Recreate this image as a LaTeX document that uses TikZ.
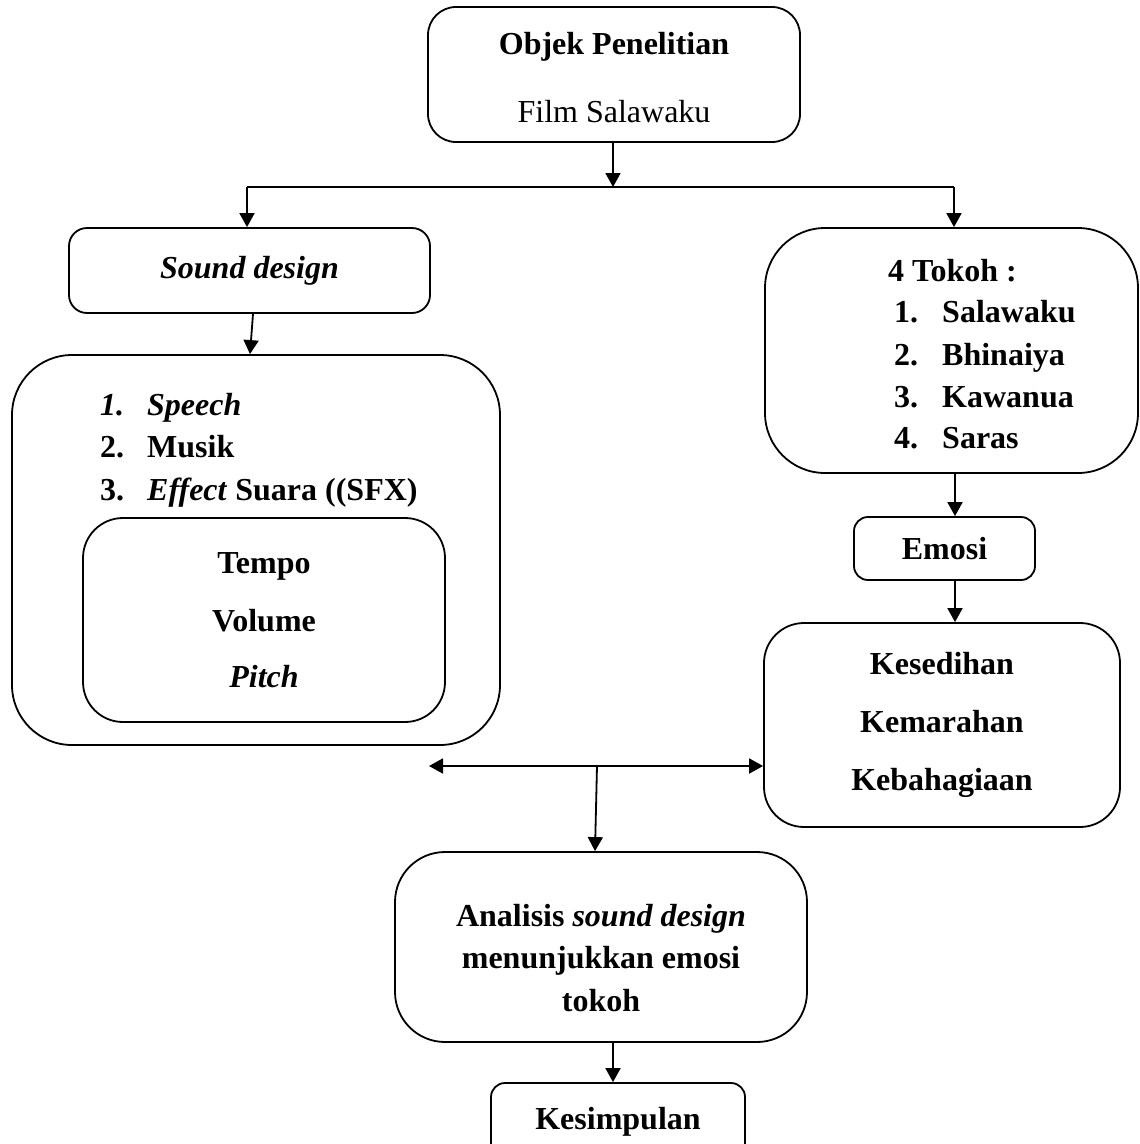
\documentclass[tikz,border=0pt]{standalone}
\usepackage{fontspec}
\setmainfont{Liberation Serif}
\usetikzlibrary{positioning,calc,arrows.meta}

\tikzset{%
  rbox/.style={draw, line width=1.8pt, align=center, inner sep=0pt},%
  conn/.style={line width=1.8pt, -{Triangle[length=14pt,width=15pt]}},%
  item/.style={anchor=base west, inner sep=0pt, font=\fontsize{32}{38}\selectfont\bfseries}%
}

\begin{document}
\begin{tikzpicture}[x=1pt, y=-1pt, font=\fontsize{32}{38}\selectfont]
          \useasboundingbox (0, 0) rectangle (1140, 1144);%
          \node [rbox, minimum width=372pt, minimum height=135pt, rounded corners=28pt] (objek) at (614, 74.5) {};%
          \node [align=center] (objekTeks) at (614, 78) {%
            \textbf{Objek Penelitian}%
            \\[30pt]Film Salawaku};%
          \node [rbox, minimum width=361pt, minimum height=85pt, rounded corners=18pt] (sound) at (249.5, 270.5) {%
            \textbf{\textit{Sound design}}};%
          \node [rbox, minimum width=488pt, minimum height=390pt, rounded corners=60pt] (elemen) at (256, 550) {};%
          \node [item] (no1) at (100, 415) {\textit{1.}};%
          \node [item] (sp) at (147, 415) {\textit{Speech}};%
          \node [item] (no2) at (100, 457) {2.};%
          \node [item] (mu) at (147, 457) {Musik};%
          \node [item] (no3) at (100, 500) {3.};%
          \node [item] (sfx) at (147, 500) {\textit{Effect} Suara ((SFX)};%
          \node [rbox, minimum width=362pt, minimum height=204pt, rounded corners=40pt, font=\fontsize{32}{38}\selectfont\bfseries] (aspek) at (264, 620) {%
            Tempo\\[20pt]Volume\\[18pt]\textit{Pitch}};%
          \node [rbox, minimum width=373pt, minimum height=245pt, rounded corners=60pt] (tokoh) at (951.5, 350.5) {};%
          \node [item] (judul) at (888, 281) {4 Tokoh :};%
          \node [item] (t1) at (894, 322) {1.};%
          \node [item] (n1) at (942, 322) {Salawaku};%
          \node [item] (t2) at (894, 365) {2.};%
          \node [item] (n2) at (942, 365) {Bhinaiya};%
          \node [item] (t3) at (894, 407) {3.};%
          \node [item] (n3) at (942, 407) {Kawanua};%
          \node [item] (t4) at (894, 448) {4.};%
          \node [item] (n4) at (942, 448) {Saras};%
          \node [rbox, minimum width=181pt, minimum height=63pt, rounded corners=14pt] (emosi) at (944.5, 548.5) {%
            \textbf{Emosi}};%
          \node [rbox, minimum width=356pt, minimum height=204pt, rounded corners=40pt, font=\fontsize{32}{38}\selectfont\bfseries] (jenis) at (942, 725) {%
            Kesedihan\\[20pt]Kemarahan\\[20pt]Kebahagiaan};%
          \node [rbox, minimum width=412pt, minimum height=190pt, rounded corners=50pt] (analisis) at (601, 947) {};%
          \node [align=center, font=\fontsize{32}{38}\selectfont\bfseries] (simpulan) at (601, 958) {%
            Analisis \textit{sound design}\\[4.5pt]menunjukkan emosi\\[4.5pt]tokoh};%
          \node [rbox, minimum width=254pt, minimum height=77pt, rounded corners=14pt] (akhir) at (618, 1121.5) {%
            \textbf{Kesimpulan}};%
          \coordinate (pusat) at (613, 187);%
          \coordinate (kiri) at (247, 187);%
          \coordinate (kanan) at (954, 187);%
          \coordinate (ujung) at (429, 766);%
          \coordinate (temu) at (597, 766);%
          \draw [conn] (objek.south -| pusat) -- (pusat);%
          \draw [line width=1.8pt] (kiri) -- (kanan);%
          \draw [conn] (kiri) -- (kiri |- sound.north);%
          \draw [conn] (kanan) -- (kanan |- tokoh.north);%
          \draw [conn] ($(sound.south)+(3.5, 0)$) -- ($(elemen.north)+(-6, 0)$);%
          \draw [conn] ($(tokoh.south)+(3.5, 0)$) -- ($(emosi.north)+(10.5, 0)$);%
          \draw [conn] ($(emosi.south)+(10.5, 0)$) -- ($(jenis.north)+(13, 0)$);%
          \draw [conn, {Triangle[length=14pt,width=15pt]}-{Triangle[length=14pt,width=15pt]}] (ujung) -- (ujung -| jenis.west);%
          \draw [conn] (temu) -- ($(analisis.north)+(-6, 0)$);%
          \draw [conn] ($(analisis.south)+(12, 0)$) -- ($(akhir.north)+(-5, 0)$);%
        \end{tikzpicture}
\end{document}
